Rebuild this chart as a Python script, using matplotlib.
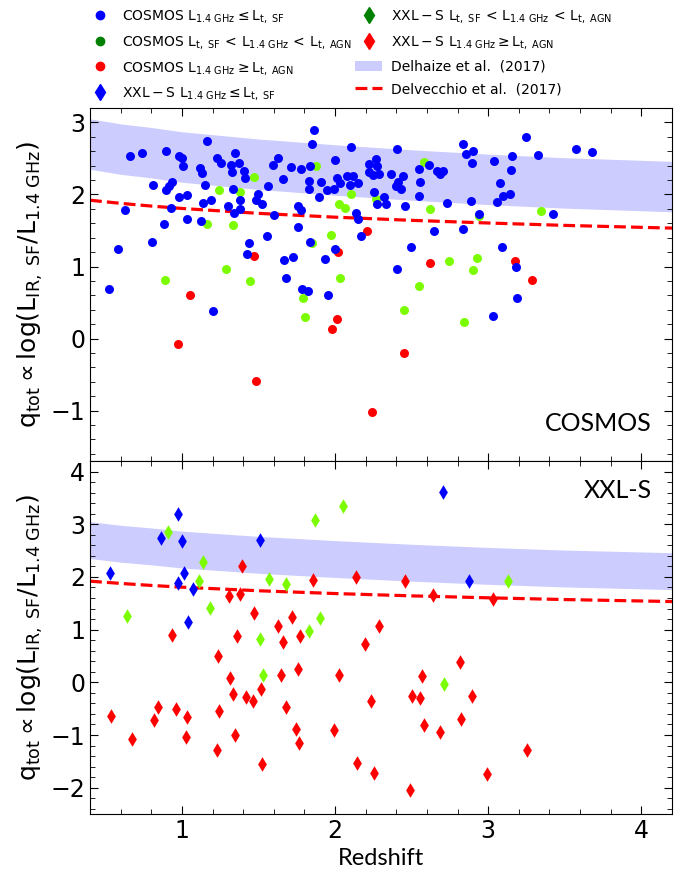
import numpy as np
import matplotlib.pyplot as plt
from matplotlib.lines import Line2D
from matplotlib.patches import Patch
from matplotlib.ticker import MultipleLocator

plt.rcParams['mathtext.default'] = 'regular'

# COSMOS data (redshift, q_tot)
cosmos_sf_z = [0.661, 0.737, 0.894, 0.983, 0.998, 1.005, 1.166, 1.229, 1.253, 1.349, 1.318, 1.37, 1.329, 1.405,
               1.412, 1.118, 1.129, 1.592, 1.629, 1.71, 1.78, 1.836, 1.862, 1.847, 2.001, 2.101, 1.662, 1.83,
               1.832, 1.91, 1.897, 1.949, 1.995, 2.014, 2.032, 2.078, 2.117, 2.099, 2.149, 2.219, 2.265, 2.276,
               2.219, 2.249, 2.284, 2.254, 2.321, 2.276, 2.33, 2.363, 2.402, 2.397, 2.406, 0.813, 0.896, 0.916,
               0.933, 0.981, 1.033, 0.929, 0.628, 1.153, 1.14, 1.19, 1.031, 1.125, 0.881, 0.803, 0.585, 0.524,
               1.301, 1.336, 1.379, 1.379, 1.34, 1.481, 1.499, 1.52, 1.56, 1.599, 1.553, 1.436, 1.423, 1.666,
               1.725, 1.679, 1.756, 1.777, 1.756, 1.836, 1.934, 1.999, 2.134, 2.149, 2.167, 1.786, 1.825, 1.953,
               1.205, 2.445, 2.413, 2.428, 2.456, 2.55, 2.611, 2.554, 2.548, 2.667, 2.706, 2.685, 2.73, 2.833,
               2.854, 2.902, 2.891, 2.887, 2.941, 2.648, 2.835, 3.035, 3.155, 3.148, 3.074, 3.098, 3.144, 3.059,
               3.244, 3.324, 3.57, 3.679, 3.42, 2.497, 3.089, 3.179, 3.031, 3.187]
cosmos_sf_q = [2.54, 2.58, 2.61, 2.54, 2.50, 2.39, 2.745, 2.51, 2.43, 2.57, 2.41, 2.43, 2.31, 2.32,
               2.23, 2.37, 2.30, 2.41, 2.51, 2.38, 2.35, 2.40, 2.89, 2.70, 2.475, 2.66, 2.215, 2.19,
               2.075, 2.18, 1.965, 2.06, 2.075, 2.23, 2.164, 2.26, 2.26, 2.127, 2.16, 2.424, 2.494, 2.396,
               2.308, 2.266, 2.28, 2.039, 1.96, 1.867, 1.863, 2.29, 2.628, 2.113, 0.967, 2.127, 2.057, 2.12,
               2.17, 1.96, 1.993, 1.81, 1.788, 2.132, 1.881, 1.928, 1.658, 1.63, 1.589, 1.347, 1.24, 0.688,
               1.835, 2.08, 1.928, 1.80, 1.742, 1.928, 2.011, 1.863, 2.113, 1.714, 1.43, 1.33, 1.17, 1.092,
               1.138, 0.837, 1.844, 1.779, 1.547, 1.347, 1.106, 1.245, 1.746, 1.658, 1.422, 0.693, 0.665, 0.605,
               0.377, 2.252, 2.174, 2.071, 1.844, 2.36, 2.41, 2.169, 1.983, 2.322, 2.327, 2.28, 1.876, 2.707,
               2.559, 2.605, 2.443, 1.914, 1.723, 1.496, 1.524, 2.461, 2.531, 2.341, 2.16, 1.983, 2.011, 1.90,
               2.791, 2.55, 2.633, 2.596, 1.733, 1.268, 1.268, 0.99, 0.312, 0.568]

cosmos_mid_z = [1.873, 1.468, 1.24, 1.377, 2.101, 2.027, 2.062, 2.267, 1.166, 1.331, 1.847, 1.975, 1.286, 0.892,
                1.442, 2.032, 1.788, 1.803, 2.58, 2.617, 2.939, 3.344, 2.743, 2.928, 2.898, 2.55, 2.45, 2.843]
cosmos_mid_q = [2.39, 2.24, 2.057, 2.034, 2.011, 1.872, 1.816, 1.942, 1.584, 1.575, 1.324, 1.44, 0.967, 0.813,
                0.804, 0.841, 0.563, 0.303, 2.457, 1.793, 1.695, 1.765, 1.073, 1.12, 0.948, 0.734, 0.40, 0.234]

cosmos_agn_z = [2.206, 2.019, 1.473, 1.053, 0.972, 1.484, 2.014, 1.982, 2.239, 2.45, 2.617, 3.174, 3.285]
cosmos_agn_q = [1.487, 1.208, 1.148, 0.60, -0.073, -0.588, 0.266, 0.127, -1.015, -0.207, 1.045, 1.073, 0.818]

# XXL-S data
xxl_sf_z = [0.972, 0.863, 1.003, 0.531, 1.016, 0.977, 1.074, 1.037, 1.51, 2.706, 2.876]
xxl_sf_q = [3.203, 2.748, 2.685, 2.079, 2.066, 1.889, 1.77, 1.144, 2.71, 3.619, 1.927]

xxl_mid_z = [0.909, 1.138, 1.109, 0.639, 1.185, 1.568, 1.677, 1.866, 2.049, 1.901, 1.827, 1.512, 1.531,
             3.131, 2.709]
xxl_mid_q = [2.855, 2.281, 1.927, 1.258, 1.403, 1.953, 1.864, 3.089, 3.341, 1.214, 0.98, 0.822, 0.141,
             1.915, -0.029]

xxl_agn_z = [1.39, 1.305, 1.381, 1.473, 1.853, 2.138, 1.629, 1.716, 0.935, 1.357, 1.662, 1.771, 2.197, 2.289,
             1.233, 2.456, 2.641, 3.033, 0.537, 0.672, 0.82, 0.844, 0.959, 1.035, 1.024, 1.242, 1.229, 1.314,
             1.333, 1.416, 1.466, 1.518, 1.344, 1.525, 1.647, 1.76, 1.682, 1.742, 1.764, 2.028, 1.993, 2.234,
             2.143, 2.254, 2.817, 2.567, 2.5, 2.552, 2.894, 2.578, 2.822, 2.687, 3.25, 2.991, 2.489]
xxl_agn_q = [2.199, 1.63, 1.668, 1.321, 1.934, 1.997, 1.062, 1.233, 0.905, 0.886, 0.772, 0.873, 0.734, 1.069,
             0.507, 1.915, 1.662, 1.574, -0.635, -1.084, -0.711, -0.471, -0.503, -0.667, -1.046, -0.541, -1.279, 0.078,
             -0.219, -0.282, -0.345, -0.13, -1.008, -1.551, 0.135, 0.248, -0.471, -0.888, -1.153, 0.135, -0.913, -0.345,
             -1.532, -1.715, 0.387, 0.129, -0.257, -0.301, -0.257, -0.812, -0.705, -0.938, -1.292, -1.74, -2.037]

# literature relations
band_z = [0.4, 0.6, 0.8, 1.0, 1.25, 1.5, 2.0, 2.5, 3.0, 3.5, 4.2]
band_hi = [3.05, 2.98, 2.93, 2.87, 2.82, 2.77, 2.69, 2.62, 2.56, 2.51, 2.46]
band_lo = [2.35, 2.28, 2.23, 2.17, 2.12, 2.07, 1.99, 1.92, 1.86, 1.81, 1.76]
dv_z = [0.4, 0.6, 0.8, 1.0, 1.5, 2.0, 2.5, 3.0, 3.5, 4.2]
dv_q = [1.92, 1.877, 1.839, 1.806, 1.738, 1.685, 1.641, 1.604, 1.571, 1.533]

band_col = '#ccccff'
lgreen = '#7cfc00'

fig, (ax1, ax2) = plt.subplots(2, 1, sharex=True, figsize=(7, 8.74), dpi=100)
fig.subplots_adjust(left=0.1286, right=0.96, top=0.8764, bottom=0.0686, hspace=0)

for ax in (ax1, ax2):
    ax.fill_between(band_z, band_lo, band_hi, color=band_col, lw=0, zorder=1)
    ax.plot(dv_z, dv_q, color='red', ls='--', lw=2.3, zorder=2)

# COSMOS panel
ax1.scatter(cosmos_mid_z, cosmos_mid_q, s=42, color=lgreen, lw=0, zorder=3)
ax1.scatter(cosmos_agn_z, cosmos_agn_q, s=42, color='red', lw=0, zorder=3)
ax1.scatter(cosmos_sf_z, cosmos_sf_q, s=42, color='blue', lw=0, zorder=4)
ax1.text(0.965, 0.075, 'COSMOS', transform=ax1.transAxes, ha='right', va='bottom', fontsize=18, family='Lato')

# XXL-S panel
ax2.scatter(xxl_sf_z, xxl_sf_q, s=55, marker='d', color='blue', lw=0, zorder=3)
ax2.scatter(xxl_mid_z, xxl_mid_q, s=55, marker='d', color=lgreen, lw=0, zorder=3)
ax2.scatter(xxl_agn_z, xxl_agn_q, s=55, marker='d', color='red', lw=0, zorder=3)
ax2.text(0.965, 0.95, 'XXL-S', transform=ax2.transAxes, ha='right', va='top', fontsize=18, family='Lato')

ax1.set_ylim(-1.7, 3.2)
ax2.set_ylim(-2.5, 4.2)
ax2.set_xlim(0.4, 4.2)

ylab = r'$q_{tot} \propto \log(L_{IR,\ SF}/L_{1.4\ GHz})$'
for ax in (ax1, ax2):
    ax.set_ylabel(ylab, fontsize=18)
    ax.xaxis.set_major_locator(MultipleLocator(1))
    ax.xaxis.set_minor_locator(MultipleLocator(0.2))
    ax.yaxis.set_major_locator(MultipleLocator(1))
    ax.yaxis.set_minor_locator(MultipleLocator(0.2))
    ax.tick_params(which='both', direction='in', top=True, right=True, labelsize=17)
    ax.tick_params(which='major', length=6)
    ax.tick_params(which='minor', length=3.5)
ax1.tick_params(labelbottom=False)
fig.align_ylabels([ax1, ax2])
ax2.set_xlabel('Redshift', fontsize=17, family='Lato')

# legend with proxy handles
handles = [
    Line2D([], [], ls='', marker='o', color='blue', ms=6),
    Line2D([], [], ls='', marker='o', color='green', ms=6),
    Line2D([], [], ls='', marker='o', color='red', ms=6),
    Line2D([], [], ls='', marker='d', color='blue', ms=8.5),
    Line2D([], [], ls='', marker='d', color='green', ms=8.5),
    Line2D([], [], ls='', marker='d', color='red', ms=8.5),
    Patch(facecolor=band_col, edgecolor='none'),
    Line2D([], [], ls='--', color='red', lw=2.3),
]
labels = [
    r'COSMOS $L_{1.4\ GHz} \leq L_{t,\ SF}$',
    r'COSMOS $L_{t,\ SF}\,{<}\,L_{1.4\ GHz}\,{<}\,L_{t,\ AGN}$',
    r'COSMOS $L_{1.4\ GHz} \geq L_{t,\ AGN}$',
    r'$XXL-S\ L_{1.4\ GHz} \leq L_{t,\ SF}$',
    r'$XXL-S\ L_{t,\ SF}\,{<}\,L_{1.4\ GHz}\,{<}\,L_{t,\ AGN}$',
    r'$XXL-S\ L_{1.4\ GHz} \geq L_{t,\ AGN}$',
    'Delhaize et al.  (2017)',
    'Delvecchio et al.  (2017)',
]
fig.legend(handles, labels, loc='upper left', bbox_to_anchor=(0.111, 1.0), ncol=2, frameon=False,
           fontsize=10, columnspacing=0.2, handletextpad=0.6, labelspacing=0.62, handlelength=2.0,
           borderaxespad=0.2)

plt.savefig('out.png', dpi=100)
